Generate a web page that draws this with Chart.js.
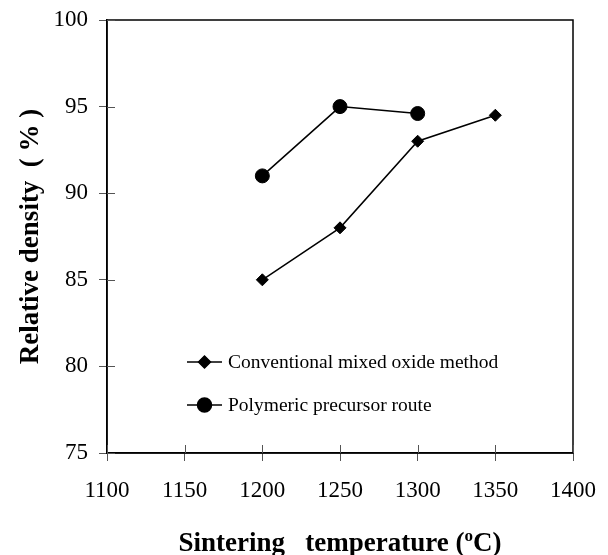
<!DOCTYPE html>
<html>
<head>
<meta charset="utf-8">
<script src="https://cdn.jsdelivr.net/npm/chart.js@4"></script>
<style>
  html, body { margin: 0; padding: 0; background: #fff; }
  #wrap { width: 608px; height: 555px; }
</style>
</head>
<body>
<div id="wrap"><canvas id="densityChart" width="608" height="555"></canvas></div>
<script>
// temperatures (oC)
const temps = [1200, 1250, 1300, 1350];
// relative density (%)
const conventional = [85.0, 88.0, 93.0, 94.5];
const polymeric = [91.0, 95.0, 94.6];
const seriesLabels = ['Conventional mixed oxide method', 'Polymeric precursor route'];
const xTicks = [1100, 1150, 1200, 1250, 1300, 1350, 1400];
const yTicks = [75, 80, 85, 90, 95, 100];

const serif = "'Liberation Serif', 'Times New Roman', serif";

// box round the plot, inner half of the crossing ticks, legend, x title with superscript
const framePlugin = {
  id: 'frame',
  afterDraw(chart) {
    const { ctx, chartArea: a, scales } = chart;
    ctx.save();
    ctx.strokeStyle = '#000';
    ctx.lineWidth = 1.5;
    ctx.strokeRect(a.left, a.top, a.right - a.left, a.bottom - a.top);

    ctx.strokeStyle = '#555';
    ctx.lineWidth = 1;
    ctx.beginPath();
    xTicks.forEach(v => {
      const px = Math.round(scales.x.getPixelForValue(v)) + 0.5;
      ctx.moveTo(px, a.bottom);
      ctx.lineTo(px, a.bottom - 8);
    });
    yTicks.forEach(v => {
      const py = Math.round(scales.y.getPixelForValue(v)) + 0.5;
      ctx.moveTo(a.left, py);
      ctx.lineTo(a.left + 8, py);
    });
    ctx.stroke();

    // legend inside the plot
    const rows = [{ y: 362, style: 'rectRot', r: 6 }, { y: 405, style: 'circle', r: 7 }];
    ctx.font = '19.5px ' + serif;
    ctx.textBaseline = 'middle';
    ctx.fillStyle = '#000';
    rows.forEach((row, i) => {
      ctx.strokeStyle = '#000';
      ctx.lineWidth = 1.5;
      ctx.beginPath();
      ctx.moveTo(187, row.y);
      ctx.lineTo(222, row.y);
      ctx.stroke();
      Chart.helpers.drawPoint(ctx, { pointStyle: row.style, radius: row.r, borderWidth: 1 }, 204.5, row.y);
      ctx.fill();
      ctx.fillText(seriesLabels[i], 228, row.y + 1);
    });

    // x axis title
    const main = 'Sintering   temperature (';
    const sup = 'o';
    const end = 'C)';
    ctx.font = 'bold 27px ' + serif;
    const w1 = ctx.measureText(main).width;
    const w3 = ctx.measureText(end).width;
    ctx.font = 'bold 17px ' + serif;
    const w2 = ctx.measureText(sup).width;
    const total = w1 + w2 + w3;
    let x = (a.left + a.right) / 2 - total / 2;
    const base = 551;
    ctx.textBaseline = 'alphabetic';
    ctx.textAlign = 'left';
    ctx.font = 'bold 27px ' + serif;
    ctx.fillText(main, x, base);
    x += w1;
    ctx.font = 'bold 17px ' + serif;
    ctx.fillText(sup, x, base - 10);
    x += w2;
    ctx.font = 'bold 27px ' + serif;
    ctx.fillText(end, x, base);
    ctx.restore();
  }
};

new Chart(document.getElementById('densityChart').getContext('2d'), {
  type: 'line',
  data: {
    datasets: [
      {
        label: seriesLabels[0],
        data: temps.map((t, i) => ({ x: t, y: conventional[i] })),
        borderColor: '#000',
        backgroundColor: '#000',
        borderWidth: 1.5,
        pointStyle: 'rectRot',
        pointRadius: 6,
        pointBorderWidth: 1,
        tension: 0
      },
      {
        label: seriesLabels[1],
        data: temps.slice(0, polymeric.length).map((t, i) => ({ x: t, y: polymeric[i] })),
        borderColor: '#000',
        backgroundColor: '#000',
        borderWidth: 1.5,
        pointStyle: 'circle',
        pointRadius: 7,
        pointBorderWidth: 1,
        tension: 0
      }
    ]
  },
  options: {
    responsive: false,
    animation: false,
    layout: { padding: { left: 0, right: 35, top: 20, bottom: 0 } },
    plugins: {
      legend: { display: false },
      tooltip: { enabled: false }
    },
    scales: {
      x: {
        type: 'linear',
        min: 1100,
        max: 1400,
        afterBuildTicks: s => { s.ticks = xTicks.map(v => ({ value: v })); },
        afterFit: s => { s.height = 102; s.paddingLeft = 0; s.paddingRight = 0; },
        ticks: {
          color: '#000',
          font: { family: serif, size: 23 },
          padding: 16,
          maxRotation: 0,
          callback: v => String(v)
        },
        grid: { drawOnChartArea: false, tickLength: 8, color: '#555' },
        border: { color: '#000', width: 1.5 },
        title: { display: false }
      },
      y: {
        min: 75,
        max: 100,
        afterBuildTicks: s => { s.ticks = yTicks.map(v => ({ value: v })); },
        afterFit: s => { s.width = 107; s.paddingTop = 0; s.paddingBottom = 0; },
        ticks: {
          color: '#000',
          font: { family: serif, size: 23 },
          padding: 11,
          callback: v => String(v)
        },
        grid: { drawOnChartArea: false, tickLength: 8, color: '#555' },
        border: { color: '#000', width: 1.5 },
        title: {
          display: true,
          text: 'Relative density  ( % )',
          color: '#000',
          font: { family: serif, size: 27, weight: 'bold' },
          padding: { top: 15, bottom: 0 }
        }
      }
    }
  },
  plugins: [framePlugin]
});
</script>
</body>
</html>
